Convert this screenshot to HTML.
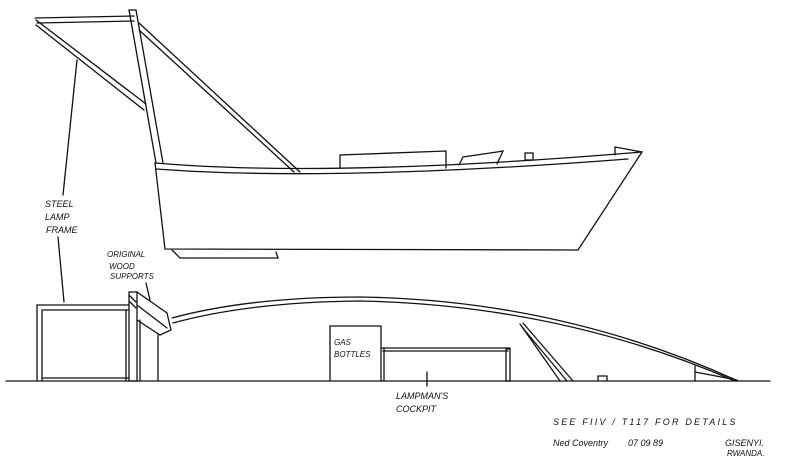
<!DOCTYPE html>
<html><head><style>
html,body{margin:0;padding:0;background:#fff;}
svg{display:block;}
text{font-family:"Liberation Sans",sans-serif;font-style:italic;fill:#111;}
</style></head><body>
<svg width="800" height="474" viewBox="0 0 800 474" xmlns="http://www.w3.org/2000/svg">
<g stroke="#111" stroke-width="1.3" fill="none" stroke-linecap="round">
<line x1="35" y1="18" x2="134" y2="16"/>
<line x1="37" y1="23" x2="134" y2="21"/>
<line x1="129" y1="10" x2="156" y2="163"/>
<line x1="136" y1="10" x2="163" y2="163"/>
<line x1="129" y1="10" x2="136" y2="10"/>
<line x1="36" y1="20" x2="146" y2="104"/>
<line x1="36" y1="25" x2="144" y2="110"/>
<line x1="139" y1="23" x2="300" y2="172"/>
<line x1="139" y1="30" x2="294" y2="172"/>
<path d="M155 163 Q330 178 642 152 L578 250 L165 249 Z"/>
<path d="M156 169 Q330 182 628 159"/>
<path d="M172 250 L180 258 L278 258 L276 252"/>
<path d="M340 168 L340 155 L446 151 L446 168"/>
<path d="M459 165 L463 157 L497 152 L503 151 L497 164"/>
<rect x="525" y="153" width="8" height="7"/>
<path d="M615 155 L615 147 L642 152"/>
<line x1="6" y1="381" x2="770" y2="381"/>
<path d="M37 381 L37 305 L128 305"/>
<path d="M42 381 L42 310 L128 310"/>
<line x1="42" y1="378" x2="128" y2="378"/>
<line x1="126" y1="310" x2="126" y2="381"/>
<rect x="129" y="292" width="8" height="89"/>
<line x1="130" y1="296" x2="136" y2="302"/>
<line x1="130" y1="302" x2="136" y2="308"/>
<line x1="140" y1="320" x2="140" y2="381"/>
<line x1="158" y1="335" x2="158" y2="381"/>
<path d="M137 292 L167 313 L171 330 L160 335 L137 320"/>
<line x1="137" y1="305" x2="167" y2="328"/>
<path d="M172 318 Q250 297 360 297 Q560 300 738 381"/>
<path d="M173 323 Q250 302 360 301 Q560 305 735 381"/>
<path d="M330 381 L330 326 L381 326 L381 381"/>
<line x1="381" y1="348" x2="510" y2="348"/>
<line x1="383" y1="351" x2="508" y2="351"/>
<rect x="506" y="349" width="4" height="32"/>
<line x1="384" y1="348" x2="384" y2="381"/>
<line x1="520" y1="324" x2="560" y2="381"/>
<line x1="523" y1="323" x2="573" y2="381"/>
<line x1="522" y1="327" x2="567" y2="381"/>
<path d="M598 381 L598 376 L607 376 L607 381"/>
<line x1="695" y1="366" x2="695" y2="381"/>
<line x1="695" y1="372" x2="737" y2="380"/>
<line x1="77" y1="60" x2="63" y2="195"/>
<line x1="58" y1="237" x2="64" y2="302"/>
<line x1="146" y1="283" x2="150" y2="300"/>
<line x1="427" y1="372" x2="427" y2="386"/>
</g>
<g font-size="9">
<text x="45" y="207">STEEL</text>
<text x="45" y="220">LAMP</text>
<text x="46" y="233">FRAME</text>
<text x="107" y="257" font-size="8">ORIGINAL</text>
<text x="109" y="269" font-size="8">WOOD</text>
<text x="110" y="279" font-size="8">SUPPORTS</text>
<text x="334" y="345" font-size="8">GAS</text>
<text x="334" y="357" font-size="8">BOTTLES</text>
<text x="396" y="399">LAMPMAN'S</text>
<text x="396" y="412">COCKPIT</text>
<text x="553" y="425" letter-spacing="2.2">SEE  FIIV / T117  FOR  DETAILS</text>
<text x="553" y="446">Ned Coventry</text>
<text x="628" y="446">07 09 89</text>
<text x="725" y="446">GISENYI.</text>
<text x="727" y="456" font-size="8">RWANDA.</text>
</g>
</svg>
</body></html>
